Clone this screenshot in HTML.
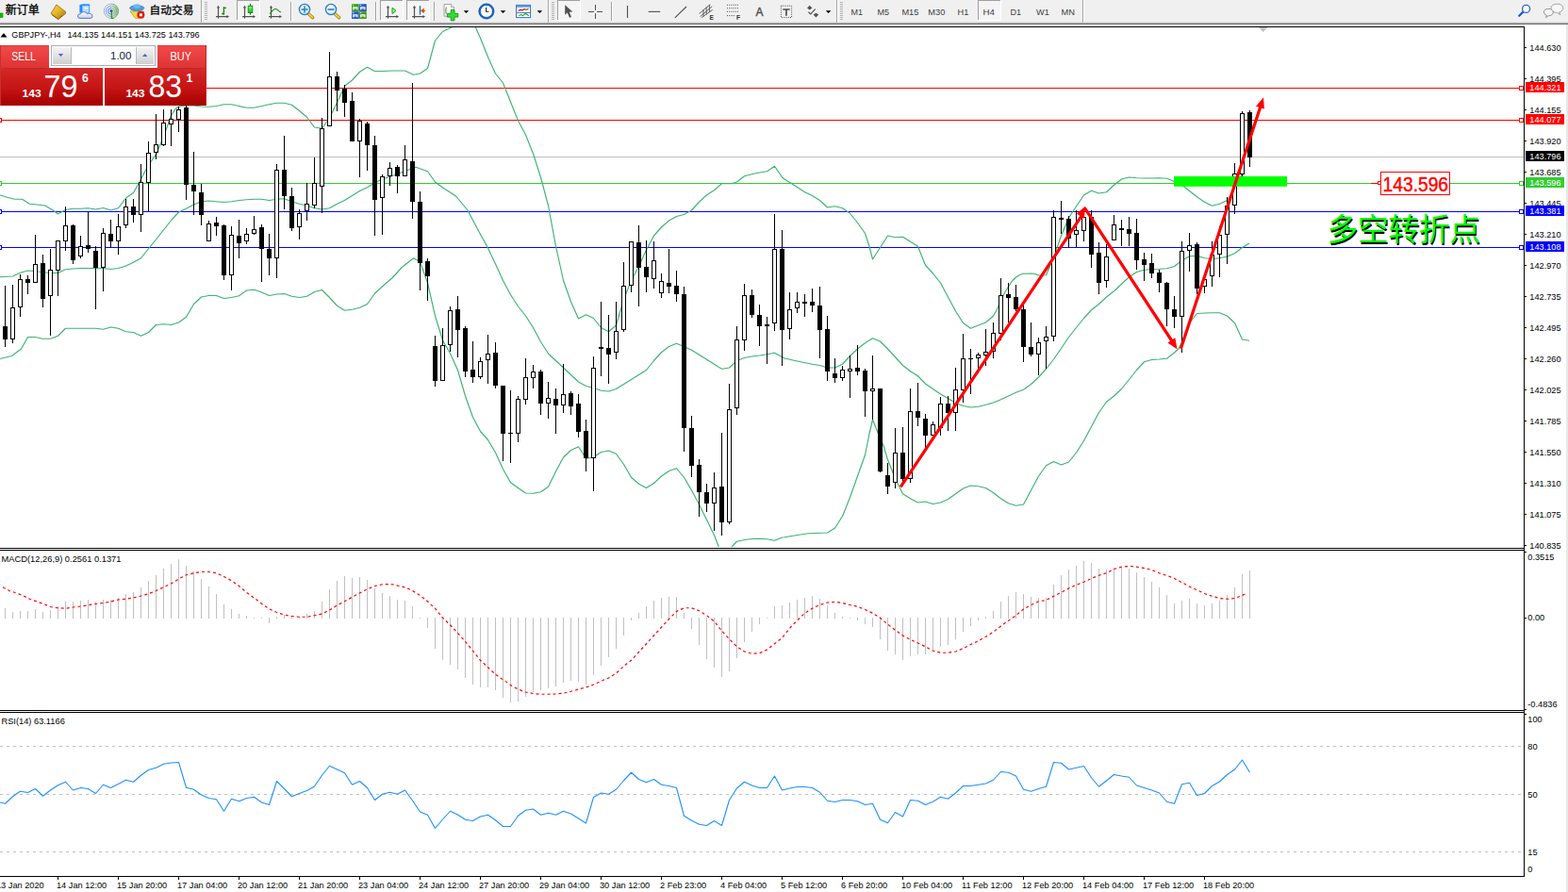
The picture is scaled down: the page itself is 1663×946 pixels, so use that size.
<!DOCTYPE html>
<html><head><meta charset="utf-8"><title>GBPJPY H4</title>
<style>
html,body{margin:0;padding:0;background:#fff}
body{width:1663px;height:946px;overflow:hidden;position:relative;font-family:"Liberation Sans",sans-serif}
svg{position:absolute;left:0;top:0;display:block}
</style></head><body>
<svg width="1663" height="946" viewBox="0 0 1663 946">
<rect x="0" y="0" width="1663" height="946" fill="#fff"/>
<g shape-rendering="crispEdges">
<rect x="0" y="93" width="1616" height="1" fill="#ff0000"/>
<rect x="0" y="127" width="1616" height="1" fill="#ff0000"/>
<rect x="0" y="166" width="1616" height="1" fill="#c0c0c0"/>
<rect x="0" y="194" width="1616" height="1" fill="#32cd32"/>
<rect x="0" y="224" width="1616" height="1" fill="#0000ff"/>
<rect x="0" y="262" width="1616" height="1" fill="#0000ff"/>
</g>
<g fill="none" stroke="#3cb371" stroke-width="1.15" stroke-linejoin="round">
<polyline points="0.00,207.00 7.50,209.25 15.50,211.25 23.50,211.25 31.50,216.25 39.50,217.00 47.50,218.00 55.50,222.50 61.50,227.00 69.50,222.50 77.50,221.25 85.50,221.25 93.50,220.75 101.50,222.00 109.50,220.50 117.50,223.00 125.50,220.75 133.50,210.00 141.50,204.50 149.50,190.00 157.50,175.00 165.50,163.75 173.50,145.00 181.50,122.50 186.00,115.50 189.50,113.00 197.50,112.00 205.50,112.00 213.50,113.00 221.25,113.25 229.50,112.50 237.50,110.75 245.50,110.75 253.50,112.50 261.50,114.25 269.50,114.25 277.50,112.50 285.50,110.75 293.50,109.25 301.50,109.25 309.50,111.25 317.50,117.50 325.50,124.25 333.50,135.00 341.50,136.25 349.50,125.00 357.50,108.75 365.50,91.25 373.50,85.00 381.50,76.25 389.50,71.25 397.50,75.50 405.50,75.50 416.00,75.00 429.50,75.00 438.50,79.25 445.50,78.00 453.50,72.50 461.50,43.00 469.50,33.50 481.00,28.00"/>
<polyline points="504.00,28.00 509.50,40.50 517.50,60.50 525.50,78.00 533.50,88.00 541.50,108.00 549.50,128.00 557.50,143.00 565.50,163.00 573.50,188.00 581.50,218.00 589.50,261.00 597.50,297.50 605.50,320.00 613.50,338.00 621.50,333.75 629.50,337.50 637.50,347.50 645.50,351.75 653.50,345.00 661.50,317.50 669.50,297.50 677.50,282.50 685.50,265.00 693.50,250.00 701.50,241.00 709.50,234.00 717.50,229.50 725.50,227.50 733.50,223.00 741.50,214.25 749.50,206.75 757.50,201.75 765.50,194.75 776.00,194.75 781.50,193.00 789.50,186.75 797.50,184.75 805.50,183.00 813.50,181.75 821.50,176.25 829.50,188.00 832.00,190.00 842.00,196.25 853.50,203.75 861.50,207.50 869.50,212.50 877.50,220.00 885.50,218.75 893.50,220.75 901.50,226.25 909.50,236.25 917.50,247.50 922.00,261.25 925.50,275.00 933.50,262.50 941.50,250.00 949.50,251.75 957.50,251.25 965.50,256.25 973.50,261.25 981.50,281.25 989.50,290.00 997.50,300.00 1005.50,315.00 1013.50,330.00 1021.50,342.50 1029.50,348.25 1037.50,345.00 1045.50,342.00 1053.50,335.00 1057.50,328.00 1061.50,318.50 1065.50,310.50 1069.50,304.00 1073.50,298.00 1077.50,294.00 1081.00,291.70 1085.50,290.20 1093.50,290.00 1097.00,290.30 1101.50,292.00 1109.50,291.70 1112.00,286.00 1117.50,273.00 1125.50,250.00 1133.50,231.00 1141.50,218.80 1149.50,207.00 1157.50,202.20 1165.50,205.00 1173.50,203.75 1181.50,196.25 1189.50,190.00 1197.50,188.00 1205.50,188.75 1213.50,189.00 1221.50,189.00 1229.50,188.75 1237.50,189.25 1245.50,192.50 1253.50,196.25 1261.50,202.50 1269.50,208.75 1277.50,214.25 1285.50,218.25 1293.50,216.25 1301.50,212.50 1309.50,200.00 1317.50,184.00"/>
<polyline points="0.00,293.75 13.50,293.00 21.50,289.25 29.50,287.00 37.50,287.50 45.50,288.75 53.50,289.50 61.50,289.50 69.50,285.75 77.50,285.00 85.50,284.50 93.50,284.50 101.50,284.50 109.50,284.50 117.50,285.50 125.50,284.50 133.50,282.00 141.50,278.25 149.50,273.75 157.50,263.75 165.50,254.00 173.50,243.75 181.50,233.75 189.50,225.00 197.50,221.25 205.50,217.00 213.50,213.75 221.50,213.00 229.50,213.75 237.50,214.50 245.50,213.75 253.50,212.50 261.50,211.75 269.50,211.25 277.50,211.25 285.50,212.50 293.50,211.25 301.50,210.75 309.50,213.75 317.50,216.25 325.50,218.00 333.50,220.75 341.50,222.00 349.50,220.75 357.50,216.25 365.50,212.50 373.50,207.50 381.50,202.50 389.50,198.75 397.50,193.75 405.50,190.00 416.00,186.50 441.00,177.25 453.50,181.75 461.50,193.00 469.50,199.00 477.50,204.00 483.50,208.00 496.00,223.00 506.50,243.00 517.50,263.00 525.50,280.00 533.50,297.50 541.50,312.50 549.50,325.00 557.50,335.00 565.50,347.50 573.50,362.50 581.50,375.00 589.50,382.50 597.50,390.00 605.50,397.50 613.50,405.00 621.50,409.50 629.50,411.25 637.50,414.25 645.50,415.00 653.50,412.50 661.50,407.50 669.50,402.50 677.50,397.50 685.50,392.50 693.50,382.50 701.50,373.75 709.50,367.50 717.50,364.25 725.50,367.50 733.50,371.25 741.50,376.25 749.50,381.25 757.50,386.25 765.50,391.25 773.50,390.00 781.50,382.50 789.50,379.50 797.50,378.00 805.50,377.00 813.50,375.75 821.50,374.25 829.50,378.75 832.00,380.00 845.50,383.00 861.50,386.25 869.50,387.50 877.50,390.00 885.50,390.00 893.50,386.25 901.50,377.50 909.50,370.00 917.50,363.75 925.50,358.75 933.50,362.00 941.50,370.00 949.50,378.75 957.50,387.50 965.50,393.75 973.50,398.75 981.50,407.00 989.50,412.50 997.50,418.00 1005.50,422.50 1013.50,427.50 1021.50,430.50 1029.50,432.00 1037.50,431.25 1045.50,429.25 1053.50,427.00 1061.50,423.75 1069.50,420.00 1077.50,416.25 1085.50,413.25 1093.50,407.50 1101.50,400.00 1109.50,391.25 1117.50,381.00 1125.50,369.50 1133.50,357.50 1141.50,347.50 1149.50,337.50 1157.50,328.75 1165.50,322.50 1173.50,315.00 1181.50,308.75 1189.50,301.25 1197.50,293.75 1205.50,288.50 1213.50,286.25 1221.50,285.50 1229.50,285.25 1237.50,284.75 1245.50,282.50 1253.50,276.25 1261.50,271.75 1269.50,271.25 1277.50,273.75 1285.50,274.50 1293.50,273.75 1301.50,272.00 1309.50,268.75 1317.50,262.50 1325.00,258.00"/>
<polyline points="0.00,380.50 12.50,377.50 22.50,370.00 29.50,357.50 37.50,357.50 45.00,359.25 53.50,359.25 61.50,356.25 69.50,348.25 77.50,348.25 85.50,348.25 101.50,348.25 109.50,349.25 117.50,347.00 125.50,348.25 133.50,351.75 141.50,352.50 149.50,356.25 157.50,352.50 165.50,344.50 173.50,343.75 181.50,344.50 189.50,342.00 197.50,336.25 205.50,322.50 213.50,315.00 221.50,313.50 229.50,313.50 237.50,316.50 245.50,315.50 253.50,313.75 261.50,308.00 269.50,307.25 277.50,310.00 285.50,313.50 293.50,312.00 301.50,311.50 309.50,314.25 317.50,315.50 325.50,314.25 333.50,309.50 341.50,307.50 349.50,315.50 357.50,324.25 365.50,329.25 373.50,328.25 381.50,326.25 389.50,322.50 397.50,311.25 405.50,303.75 416.00,294.75 426.00,283.75 438.50,273.75 445.50,277.50 453.50,300.00 461.50,335.00 469.50,361.00 477.50,375.00 485.50,392.50 493.50,420.00 501.50,442.50 509.50,457.50 517.50,466.50 525.50,480.00 533.50,497.50 541.50,511.75 549.50,517.50 557.50,523.00 565.50,523.25 573.50,521.75 581.50,516.25 589.50,500.00 597.50,485.00 605.50,477.50 613.50,473.75 621.50,486.25 629.50,485.00 637.50,479.50 645.50,478.00 653.50,481.25 661.50,492.50 669.50,506.25 677.50,513.25 685.50,517.50 693.50,512.50 701.50,505.00 709.50,499.50 717.50,496.75 725.50,506.25 733.50,520.00 741.50,535.00 749.50,551.25 757.50,567.50 762.25,580.00"/>
<polyline points="776.00,580.00 781.50,574.25 789.50,572.50 797.50,571.50 805.50,571.25 813.50,571.75 821.50,573.25 829.50,570.00 832.00,569.75 845.50,567.50 857.00,565.75 877.50,565.00 885.50,560.00 893.50,547.50 901.50,527.50 909.50,505.00 917.50,482.50 922.00,460.00 925.50,445.00 929.50,455.00 933.50,465.00 937.00,472.50 941.50,487.50 949.50,507.50 957.50,523.75 965.50,528.75 973.50,533.00 981.50,532.00 989.50,534.50 997.50,533.00 1005.50,529.50 1013.50,523.75 1021.50,518.00 1029.50,515.00 1037.50,515.75 1045.50,517.50 1053.50,522.50 1061.50,528.75 1069.50,533.75 1077.50,536.25 1085.50,535.00 1093.50,520.00 1101.50,505.00 1109.50,493.75 1117.50,489.50 1125.50,493.00 1133.50,490.00 1141.50,480.00 1149.50,467.50 1157.50,452.50 1165.50,437.50 1173.50,426.25 1181.50,420.00 1189.50,412.50 1197.50,402.50 1205.50,392.50 1213.50,383.75 1221.50,381.50 1229.50,381.00 1237.50,380.25 1245.50,374.00 1250.00,370.00 1253.50,362.50 1261.50,342.50 1269.50,332.50 1277.50,332.00 1285.50,331.75 1293.50,331.75 1301.50,335.00 1309.50,342.50 1317.50,360.00 1325.00,361.25"/>
</g>
<g shape-rendering="crispEdges">
<path d="M5.5 303V368M13.5 302V364M21.5 291V336M29.5 292V312M37.5 249V300M45.5 270V326M53.5 264V356M61.5 255V314M69.5 219V266M77.5 238V280M85.5 250V274M93.5 225V268M101.5 261V328M109.5 242V309M117.5 233V262M125.5 227V270M133.5 211V242M141.5 211V236M149.5 174V246M157.5 150V224M165.5 121V169M173.5 116V155M181.5 116V155M189.5 113V140M197.5 112V212M205.5 161V228M213.5 195V239M221.5 234V256M229.5 230V250M237.5 238V297M245.5 240V308M253.5 233V274M261.5 242V259M269.5 229V249M277.5 238V299M285.5 248V292M293.5 174V295M301.5 144V222M309.5 199V245M317.5 222V254M325.5 194V234M333.5 167V221M341.5 125V226M349.5 55V134M357.5 76V118M365.5 90V124M373.5 98V150M381.5 126V188M389.5 129V181M397.5 144V250M405.5 185V249M413.5 172V197M421.5 175V205M429.5 154V187M437.5 88V232M445.5 203V308M453.5 274V319M461.5 356V410M469.5 348V404M477.5 325V373M485.5 314V379M493.5 346V400M501.5 362V406M509.5 379V402M517.5 355V407M525.5 363V412M533.5 409V489M541.5 414V491M549.5 420V469M557.5 380V429M565.5 387V412M573.5 392V440M581.5 405V444M589.5 412V460M597.5 386V438M605.5 415V440M613.5 418V464M621.5 445V500M629.5 378V521M637.5 320V399M645.5 334V407M653.5 320V381M661.5 278V352M669.5 256V310M677.5 239V325M685.5 255V310M693.5 256V306M701.5 290V316M709.5 264V311M717.5 287V320M725.5 304V479M733.5 441V506M741.5 487V548M749.5 513V543M757.5 501V563M765.5 459V568M773.5 407V556M781.5 346V440M789.5 301V372M797.5 307V337M805.5 323V367M813.5 336V386M821.5 227V351M829.5 244V388M837.5 310V360M845.5 310V332M853.5 312V336M861.5 306V331M869.5 304V380M877.5 335V404M885.5 380V406M893.5 388V404M901.5 377V422M909.5 366V398M917.5 391V442M925.5 377V445M933.5 412V501M941.5 491V524M949.5 454V518M957.5 453V515M965.5 412V512M973.5 406V452M981.5 439V475M989.5 447V462M997.5 421V462M1005.5 420V457M1013.5 390V457M1021.5 354V427M1029.5 370V418M1037.5 374V396M1045.5 349V388M1053.5 342V380M1061.5 295V361M1069.5 300V342M1077.5 302V330M1085.5 323V384M1093.5 342V378M1101.5 358V398M1109.5 346V391M1117.5 223V362M1125.5 213V248M1133.5 229V262M1141.5 223V262M1149.5 222V256M1157.5 223V284M1165.5 257V312M1173.5 259V305M1181.5 228V255M1189.5 233V261M1197.5 230V261M1205.5 232V286M1213.5 268V298M1221.5 269V295M1229.5 286V310M1237.5 299V346M1245.5 314V348M1253.5 256V374M1261.5 247V288M1269.5 257V312M1277.5 290V311M1285.5 256V304M1293.5 240V294M1301.5 209V280M1309.5 173V227M1317.5 118V188M1325.5 117V177" stroke="#000" stroke-width="1" fill="none"/>
<path d="M3 346h5v14h-5zM27 296h5v4h-5zM43 279h5v38h-5zM75 239h5v37h-5zM91 260h5v4h-5zM99 266h5v18h-5zM115 248h5v8h-5zM139 219h5v9h-5zM195 114h5v82h-5zM203 196h5v7h-5zM211 204h5v24h-5zM227 236h5v4h-5zM235 239h5v53h-5zM251 250h5v8h-5zM275 241h5v23h-5zM283 264h5v10h-5zM299 180h5v28h-5zM307 208h5v34h-5zM355 81h5v15h-5zM363 94h5v15h-5zM371 107h5v43h-5zM387 131h5v23h-5zM395 154h5v58h-5zM419 177h5v10h-5zM435 171h5v43h-5zM443 214h5v65h-5zM451 277h5v16h-5zM459 367h5v37h-5zM483 328h5v22h-5zM491 348h5v46h-5zM499 392h5v8h-5zM523 374h5v35h-5zM531 409h5v51h-5zM539 459h5v1h-5zM571 394h5v34h-5zM587 423h5v7h-5zM603 417h5v14h-5zM611 428h5v30h-5zM619 457h5v29h-5zM635 368h5v2h-5zM643 369h5v7h-5zM675 257h5v27h-5zM683 283h5v11h-5zM707 300h5v4h-5zM715 303h5v9h-5zM723 312h5v142h-5zM731 454h5v40h-5zM739 493h5v29h-5zM747 522h5v12h-5zM763 516h5v38h-5zM795 313h5v21h-5zM803 334h5v12h-5zM811 344h5v2h-5zM827 264h5v86h-5zM851 320h5v2h-5zM859 320h5v4h-5zM867 324h5v26h-5zM875 349h5v45h-5zM883 396h5v5h-5zM907 390h5v4h-5zM915 393h5v22h-5zM931 412h5v88h-5zM939 504h5v12h-5zM955 480h5v28h-5zM971 436h5v7h-5zM979 444h5v18h-5zM1003 428h5v10h-5zM1027 380h5v1h-5zM1067 312h5v4h-5zM1075 315h5v13h-5zM1083 328h5v40h-5zM1091 368h5v8h-5zM1123 231h5v2h-5zM1131 232h5v21h-5zM1155 230h5v40h-5zM1163 268h5v32h-5zM1187 242h5v2h-5zM1195 243h5v5h-5zM1203 247h5v29h-5zM1211 275h5v6h-5zM1219 279h5v11h-5zM1227 289h5v11h-5zM1235 300h5v28h-5zM1243 328h5v8h-5zM1267 259h5v47h-5zM1323 119h5v48h-5z" fill="#000"/>
<path d="M11.5 326.5h4v33h-4zM19.5 296.5h4v29h-4zM35.5 280.5h4v19h-4zM51.5 286.5h4v27h-4zM59.5 255.5h4v31h-4zM67.5 239.5h4v16h-4zM83.5 261.5h4v10h-4zM107.5 247.5h4v36h-4zM123.5 240.5h4v15h-4zM131.5 219.5h4v19h-4zM147.5 193.5h4v34h-4zM155.5 162.5h4v31h-4zM163.5 153.5h4v8h-4zM171.5 130.5h4v23h-4zM179.5 126.5h4v5h-4zM187.5 116.5h4v10h-4zM219.5 237.5h4v18h-4zM243.5 249.5h4v42h-4zM259.5 248.5h4v7h-4zM267.5 243.5h4v4h-4zM291.5 180.5h4v93h-4zM315.5 226.5h4v14h-4zM323.5 216.5h4v7h-4zM331.5 194.5h4v23h-4zM339.5 136.5h4v61h-4zM347.5 81.5h4v52h-4zM379.5 128.5h4v21h-4zM403.5 187.5h4v22h-4zM411.5 178.5h4v8h-4zM427.5 169.5h4v17h-4zM467.5 366.5h4v37h-4zM475.5 329.5h4v36h-4zM507.5 383.5h4v16h-4zM515.5 375.5h4v6h-4zM547.5 423.5h4v36h-4zM555.5 400.5h4v23h-4zM563.5 394.5h4v6h-4zM579.5 422.5h4v5h-4zM595.5 418.5h4v11h-4zM627.5 390.5h4v95h-4zM651.5 351.5h4v22h-4zM659.5 303.5h4v46h-4zM667.5 256.5h4v46h-4zM691.5 276.5h4v19h-4zM699.5 298.5h4v12h-4zM755.5 517.5h4v16h-4zM771.5 434.5h4v119h-4zM779.5 360.5h4v72h-4zM787.5 313.5h4v47h-4zM819.5 264.5h4v78h-4zM835.5 328.5h4v20h-4zM843.5 320.5h4v6h-4zM891.5 392.5h4v8h-4zM899.5 391.5h4v2h-4zM923.5 412.5h4v2h-4zM947.5 480.5h4v31h-4zM963.5 436.5h4v71h-4zM987.5 450.5h4v11h-4zM995.5 428.5h4v25h-4zM1011.5 413.5h4v24h-4zM1019.5 380.5h4v33h-4zM1035.5 376.5h4v3h-4zM1043.5 373.5h4v3h-4zM1051.5 353.5h4v19h-4zM1059.5 313.5h4v40h-4zM1099.5 363.5h4v12h-4zM1107.5 357.5h4v4h-4zM1115.5 230.5h4v126h-4zM1139.5 244.5h4v4h-4zM1147.5 230.5h4v14h-4zM1171.5 272.5h4v25h-4zM1179.5 238.5h4v16h-4zM1251.5 266.5h4v69h-4zM1259.5 260.5h4v5h-4zM1275.5 296.5h4v7h-4zM1283.5 270.5h4v22h-4zM1291.5 249.5h4v20h-4zM1299.5 218.5h4v30h-4zM1307.5 184.5h4v33h-4zM1315.5 120.5h4v64h-4z" fill="#fff" stroke="#000" stroke-width="1"/>
</g>
<rect x="1245" y="187" width="120" height="10.8" fill="#00ff00"/>
<line x1="955.2" y1="516.4" x2="1147.8" y2="227.9" stroke="#ff0000" stroke-width="3.2"/>
<polygon points="1151,218.8 1141.9,226.4 1149.9,231.9" fill="#ff0000"/>
<line x1="1150.3" y1="220.3" x2="1243.5" y2="362.5" stroke="#ff0000" stroke-width="3.2"/><polygon points="1248.6,370.4 1238.4,363.4 1246.3,358.3" fill="#ff0000"/>
<line x1="1252.4" y1="369.8" x2="1337.1" y2="112.2" stroke="#ff0000" stroke-width="3.2"/><polygon points="1340.0,103.3 1340.9,115.6 1332.0,112.7" fill="#ff0000"/>
<g shape-rendering="crispEdges">
<path d="M5.5 645V656M13.5 649V656M21.5 648V656M29.5 648V656M37.5 646V656M45.5 649V656M53.5 647V656M61.5 643V656M69.5 638V656M77.5 638V656M85.5 637V656M93.5 636V656M101.5 638V656M109.5 636V656M117.5 636V656M125.5 634V656M133.5 630V656M141.5 628V656M149.5 623V656M157.5 616V656M165.5 610V656M173.5 603V656M181.5 598V656M189.5 593V656M197.5 600V656M205.5 606V656M213.5 614V656M221.5 622V656M229.5 630V656M237.5 641V656M245.5 646V656M253.5 651V656M261.5 653V656M269.5 655V656M277.5 655V656M285.5 655V661M293.5 654V656M301.5 652V656M309.5 653V656M317.5 654V656M325.5 651V656M333.5 648V656M341.5 638V656M349.5 625V656M357.5 616V656M365.5 611V656M373.5 613V656M381.5 612V656M389.5 615V656M397.5 624V656M405.5 629V656M413.5 632V656M421.5 636V656M429.5 637V656M437.5 643V656M445.5 655V656M453.5 655V666M461.5 655V688M469.5 655V700M477.5 655V705M485.5 655V710M493.5 655V719M501.5 655V726M509.5 655V729M517.5 655V729M525.5 655V732M533.5 655V740M541.5 655V745M549.5 655V744M557.5 655V739M565.5 655V734M573.5 655V732M581.5 655V730M589.5 655V728M597.5 655V724M605.5 655V722M613.5 655V723M621.5 655V726M629.5 655V716M637.5 655V706M645.5 655V697M653.5 655V688M661.5 655V674M669.5 655V658M677.5 650V656M685.5 643V656M693.5 637V656M701.5 634V656M709.5 633V656M717.5 633V656M725.5 650V656M733.5 655V667M741.5 655V684M749.5 655V699M757.5 655V708M765.5 655V718M773.5 655V712M781.5 655V698M789.5 655V681M797.5 655V670M805.5 655V662M813.5 655V656M821.5 643V656M829.5 642V656M837.5 639V656M845.5 636V656M853.5 634V656M861.5 632V656M869.5 635V656M877.5 642V656M885.5 650V656M893.5 654V656M901.5 655V656M909.5 655V658M917.5 655V662M925.5 655V665M933.5 655V678M941.5 655V690M949.5 655V694M957.5 655V700M965.5 655V696M973.5 655V694M981.5 655V694M989.5 655V690M997.5 655V686M1005.5 655V684M1013.5 655V678M1021.5 655V670M1029.5 655V664M1037.5 655V658M1045.5 654V656M1053.5 648V656M1061.5 638V656M1069.5 632V656M1077.5 628V656M1085.5 630V656M1093.5 633V656M1101.5 634V656M1109.5 634V656M1117.5 620V656M1125.5 610V656M1133.5 604V656M1141.5 600V656M1149.5 595V656M1157.5 597V656M1165.5 603V656M1173.5 604V656M1181.5 602V656M1189.5 602V656M1197.5 603V656M1205.5 607V656M1213.5 612V656M1221.5 617V656M1229.5 623V656M1237.5 631V656M1245.5 640V656M1253.5 637V656M1261.5 635V656M1269.5 640V656M1277.5 642V656M1285.5 640V656M1293.5 637V656M1301.5 631V656M1309.5 623V656M1317.5 609V656M1325.5 605V656" stroke="#c0c0c0" stroke-width="1" fill="none"/>
</g>
<polyline points="3.00,622.75 10.00,626.50 17.50,629.00 25.00,632.00 32.50,635.75 40.00,638.25 47.50,641.00 53.50,643.50 61.50,644.75 69.50,645.25 77.50,644.00 85.50,643.00 93.50,641.75 101.50,640.50 109.50,639.50 117.50,638.00 125.50,636.00 133.50,635.25 141.50,634.00 149.50,632.00 157.50,629.75 165.50,626.50 173.50,622.75 181.50,619.00 189.50,614.00 197.50,609.75 205.50,607.75 213.50,606.50 221.50,606.50 229.50,607.75 237.50,611.50 245.50,615.75 253.50,621.50 261.50,628.25 269.50,634.00 277.50,640.25 285.50,645.75 293.50,649.50 301.50,652.00 309.50,653.50 317.50,654.25 325.50,654.25 333.50,652.75 341.50,651.00 349.50,647.00 357.50,642.00 365.50,637.75 373.50,633.25 381.50,629.00 389.50,624.75 397.50,621.50 405.50,619.75 413.50,619.50 416.00,619.75 423.50,621.50 431.00,623.25 437.50,626.50 445.50,631.50 453.50,637.75 461.50,645.25 469.50,655.25 477.50,662.75 485.50,671.50 493.50,680.25 501.50,690.25 509.50,700.25 517.50,707.75 525.50,715.25 533.50,720.75 541.50,726.50 549.50,731.00 557.50,734.00 565.50,735.50 573.50,736.25 581.50,736.25 589.50,736.00 597.50,735.25 605.50,733.25 613.50,731.00 621.50,729.00 629.50,726.00 637.50,722.25 645.50,719.00 653.50,714.00 661.50,706.50 669.50,700.25 677.50,691.50 685.50,682.75 693.50,674.00 701.50,665.25 709.50,656.50 717.50,648.50 725.50,644.75 733.50,644.75 741.50,647.75 749.50,652.75 757.50,659.00 765.50,669.00 773.50,677.75 781.50,685.75 789.50,691.00 797.50,693.25 805.50,692.75 813.50,689.00 821.50,682.75 829.50,676.50 832.00,673.25 839.50,664.00 847.00,656.50 853.50,650.25 861.50,645.25 869.50,641.50 877.50,639.00 885.50,638.25 893.50,639.50 901.50,641.50 909.50,643.25 917.50,646.50 925.50,650.25 933.50,655.25 941.50,662.00 949.50,668.25 957.50,674.00 965.50,678.25 973.50,682.00 981.50,685.75 989.50,690.25 997.50,692.25 1005.50,692.25 1013.50,691.00 1021.50,687.75 1029.50,683.50 1037.50,679.75 1045.50,675.25 1053.50,670.25 1061.50,664.00 1069.50,658.25 1077.50,652.75 1085.50,646.00 1093.50,641.50 1101.50,637.75 1109.50,636.50 1117.50,632.25 1125.50,628.25 1133.50,624.00 1141.50,620.25 1149.50,617.25 1157.50,613.50 1165.50,610.25 1173.50,607.75 1181.50,603.50 1189.50,601.25 1197.50,600.50 1200.00,600.50 1207.50,601.50 1215.00,602.75 1221.50,604.50 1229.50,607.75 1237.50,610.25 1245.50,613.50 1253.50,617.75 1261.50,622.00 1269.50,625.75 1277.50,629.50 1285.50,632.25 1293.50,634.50 1301.50,635.25 1309.50,634.50 1317.50,631.50 1322.50,629.00" fill="none" stroke="#ff0000" stroke-width="1.2" stroke-dasharray="3,3"/>
<g shape-rendering="crispEdges" stroke="#c0c0c0" stroke-width="1" stroke-dasharray="3,4">
<line x1="0" y1="791.5" x2="1614" y2="791.5"/>
<line x1="0" y1="842.5" x2="1614" y2="842.5"/>
<line x1="0" y1="903.5" x2="1614" y2="903.5"/>
</g>
<polyline points="0.00,851.00 5.50,852.25 13.50,844.75 21.50,839.25 29.50,840.50 37.50,836.50 45.50,844.25 53.50,838.00 61.50,832.75 69.50,829.25 77.50,838.00 85.50,835.50 93.50,836.50 101.50,841.50 109.50,832.25 117.50,835.50 125.50,831.50 133.50,827.25 141.50,829.25 149.50,822.25 157.50,816.50 165.50,814.25 173.50,810.25 181.50,809.00 189.50,808.50 197.50,835.25 205.50,837.25 213.50,843.00 221.50,846.50 229.50,847.75 237.50,860.25 245.50,847.25 253.50,849.75 261.50,846.50 269.50,845.25 277.50,851.00 285.50,853.50 293.50,828.50 301.50,836.50 309.50,844.75 317.50,841.50 325.50,838.50 333.50,834.00 341.50,822.25 349.50,812.25 357.50,816.00 365.50,819.75 373.50,832.25 381.50,828.50 389.50,835.50 397.50,848.50 405.50,842.25 413.50,840.25 421.50,842.25 429.50,838.00 437.50,849.00 445.50,861.00 453.50,864.25 461.50,878.50 469.50,869.00 477.50,860.25 485.50,864.00 493.50,869.25 501.50,870.50 509.50,866.00 517.50,864.25 525.50,869.75 533.50,876.50 541.50,876.50 549.50,865.25 557.50,859.25 565.50,858.00 573.50,864.25 581.50,862.25 589.50,864.25 597.50,860.25 605.50,863.00 613.50,868.00 621.50,873.00 629.50,845.50 637.50,841.00 645.50,842.25 653.50,837.25 661.50,827.75 669.50,819.25 677.50,826.50 685.50,829.75 693.50,826.50 701.50,832.25 709.50,833.50 717.50,835.50 725.50,865.25 733.50,870.25 741.50,874.25 749.50,875.50 757.50,870.50 765.50,875.50 773.50,848.50 781.50,836.00 789.50,829.25 797.50,833.00 805.50,835.50 813.50,835.50 821.50,823.00 829.50,838.00 837.50,836.00 845.50,834.50 853.50,834.50 861.50,835.50 869.50,840.25 877.50,849.25 885.50,850.50 893.50,848.50 901.50,848.50 909.50,849.75 917.50,853.50 925.50,852.25 933.50,869.25 941.50,872.75 949.50,861.50 957.50,866.00 965.50,848.50 973.50,849.25 981.50,853.50 989.50,850.25 997.50,845.25 1005.50,847.25 1013.50,841.00 1021.50,833.50 1029.50,833.50 1037.50,832.25 1045.50,831.00 1053.50,827.25 1061.50,818.50 1069.50,819.25 1077.50,823.00 1085.50,837.25 1093.50,839.25 1101.50,836.50 1109.50,834.25 1117.50,808.50 1125.50,809.25 1133.50,816.00 1141.50,814.25 1149.50,812.50 1157.50,824.75 1165.50,834.25 1173.50,828.00 1181.50,821.50 1189.50,823.00 1197.50,824.25 1205.50,833.00 1213.50,835.50 1221.50,838.00 1229.50,841.00 1237.50,850.25 1245.50,852.25 1253.50,831.75 1261.50,830.25 1269.50,843.50 1277.50,841.50 1285.50,833.50 1293.50,829.00 1301.50,821.50 1309.50,816.00 1317.50,806.00 1325.50,819.25" fill="none" stroke="#1e90ff" stroke-width="1.1" stroke-linejoin="round"/>
<g shape-rendering="crispEdges" fill="#000">
<rect x="0" y="28" width="1617" height="1"/>
<rect x="1616" y="28" width="1" height="902"/>
<rect x="0" y="581" width="1617" height="1"/>
<rect x="0" y="583" width="1617" height="1"/>
<rect x="0" y="753" width="1617" height="1"/>
<rect x="0" y="755" width="1617" height="1"/>
<rect x="0" y="929" width="1617" height="1"/>
<rect x="0" y="582" width="1616" height="1" fill="#fff"/>
<rect x="0" y="754" width="1616" height="1" fill="#fff"/>
<rect x="1617" y="50" width="2" height="1"/>
<rect x="1617" y="83" width="2" height="1"/>
<rect x="1617" y="116" width="2" height="1"/>
<rect x="1617" y="149" width="2" height="1"/>
<rect x="1617" y="182" width="2" height="1"/>
<rect x="1617" y="215" width="2" height="1"/>
<rect x="1617" y="248" width="2" height="1"/>
<rect x="1617" y="281" width="2" height="1"/>
<rect x="1617" y="314" width="2" height="1"/>
<rect x="1617" y="347" width="2" height="1"/>
<rect x="1617" y="380" width="2" height="1"/>
<rect x="1617" y="413" width="2" height="1"/>
<rect x="1617" y="446" width="2" height="1"/>
<rect x="1617" y="479" width="2" height="1"/>
<rect x="1617" y="512" width="2" height="1"/>
<rect x="1617" y="545" width="2" height="1"/>
<rect x="1617" y="578" width="2" height="1"/>
<rect x="1617" y="585" width="2" height="1"/>
<rect x="1617" y="655" width="2" height="1"/>
<rect x="1617" y="752" width="2" height="1"/>
<rect x="1617" y="757" width="2" height="1"/>
<rect x="61" y="930" width="1" height="3"/>
<rect x="125" y="930" width="1" height="3"/>
<rect x="189" y="930" width="1" height="3"/>
<rect x="253" y="930" width="1" height="3"/>
<rect x="317" y="930" width="1" height="3"/>
<rect x="381" y="930" width="1" height="3"/>
<rect x="445" y="930" width="1" height="3"/>
<rect x="509" y="930" width="1" height="3"/>
<rect x="573" y="930" width="1" height="3"/>
<rect x="637" y="930" width="1" height="3"/>
<rect x="701" y="930" width="1" height="3"/>
<rect x="765" y="930" width="1" height="3"/>
<rect x="829" y="930" width="1" height="3"/>
<rect x="893" y="930" width="1" height="3"/>
<rect x="957" y="930" width="1" height="3"/>
<rect x="1021" y="930" width="1" height="3"/>
<rect x="1085" y="930" width="1" height="3"/>
<rect x="1149" y="930" width="1" height="3"/>
<rect x="1213" y="930" width="1" height="3"/>
<rect x="1277" y="930" width="1" height="3"/>
</g>
<g font-family='"Liberation Sans", sans-serif' font-size="9.8" fill="#000">
<text transform="translate(1622.30,53.90) scale(0.940,1)" font-size="9.8">144.630</text>
<text transform="translate(1622.30,86.90) scale(0.940,1)" font-size="9.8">144.395</text>
<text transform="translate(1622.30,119.90) scale(0.940,1)" font-size="9.8">144.155</text>
<text transform="translate(1622.30,152.90) scale(0.940,1)" font-size="9.8">143.920</text>
<text transform="translate(1622.30,185.90) scale(0.940,1)" font-size="9.8">143.685</text>
<text transform="translate(1622.30,218.90) scale(0.940,1)" font-size="9.8">143.445</text>
<text transform="translate(1622.30,251.90) scale(0.940,1)" font-size="9.8">143.210</text>
<text transform="translate(1622.30,284.90) scale(0.940,1)" font-size="9.8">142.970</text>
<text transform="translate(1622.30,317.90) scale(0.940,1)" font-size="9.8">142.735</text>
<text transform="translate(1622.30,350.90) scale(0.940,1)" font-size="9.8">142.495</text>
<text transform="translate(1622.30,383.90) scale(0.940,1)" font-size="9.8">142.260</text>
<text transform="translate(1622.30,416.90) scale(0.940,1)" font-size="9.8">142.025</text>
<text transform="translate(1622.30,449.90) scale(0.940,1)" font-size="9.8">141.785</text>
<text transform="translate(1622.30,482.90) scale(0.940,1)" font-size="9.8">141.550</text>
<text transform="translate(1622.30,515.90) scale(0.940,1)" font-size="9.8">141.310</text>
<text transform="translate(1622.30,548.90) scale(0.940,1)" font-size="9.8">141.075</text>
<text transform="translate(1622.30,581.90) scale(0.940,1)" font-size="9.8">140.835</text>
<text transform="translate(1620.30,594.40) scale(0.940,1)" font-size="9.8">0.3515</text>
<text transform="translate(1620.30,658.40) scale(0.940,1)" font-size="9.8">0.00</text>
<text transform="translate(1620.30,750.40) scale(0.940,1)" font-size="9.8">-0.4836</text>
<text transform="translate(1620.30,765.90) scale(0.940,1)" font-size="9.8">100</text>
<text transform="translate(1620.30,794.90) scale(0.940,1)" font-size="9.8">80</text>
<text transform="translate(1620.30,845.90) scale(0.940,1)" font-size="9.8">50</text>
<text transform="translate(1620.30,906.90) scale(0.940,1)" font-size="9.8">15</text>
<text transform="translate(1620.30,925.40) scale(0.940,1)" font-size="9.8">0</text>
<text transform="translate(-4.00,942.00) scale(0.940,1)" font-size="9.8">13 Jan 2020</text>
<text transform="translate(60.00,942.00) scale(0.940,1)" font-size="9.8">14 Jan 12:00</text>
<text transform="translate(124.00,942.00) scale(0.940,1)" font-size="9.8">15 Jan 20:00</text>
<text transform="translate(188.00,942.00) scale(0.940,1)" font-size="9.8">17 Jan 04:00</text>
<text transform="translate(252.00,942.00) scale(0.940,1)" font-size="9.8">20 Jan 12:00</text>
<text transform="translate(316.00,942.00) scale(0.940,1)" font-size="9.8">21 Jan 20:00</text>
<text transform="translate(380.00,942.00) scale(0.940,1)" font-size="9.8">23 Jan 04:00</text>
<text transform="translate(444.00,942.00) scale(0.940,1)" font-size="9.8">24 Jan 12:00</text>
<text transform="translate(508.00,942.00) scale(0.940,1)" font-size="9.8">27 Jan 20:00</text>
<text transform="translate(572.00,942.00) scale(0.940,1)" font-size="9.8">29 Jan 04:00</text>
<text transform="translate(636.00,942.00) scale(0.940,1)" font-size="9.8">30 Jan 12:00</text>
<text transform="translate(700.00,942.00) scale(0.940,1)" font-size="9.8">2 Feb 23:00</text>
<text transform="translate(764.00,942.00) scale(0.940,1)" font-size="9.8">4 Feb 04:00</text>
<text transform="translate(828.00,942.00) scale(0.940,1)" font-size="9.8">5 Feb 12:00</text>
<text transform="translate(892.00,942.00) scale(0.940,1)" font-size="9.8">6 Feb 20:00</text>
<text transform="translate(956.00,942.00) scale(0.940,1)" font-size="9.8">10 Feb 04:00</text>
<text transform="translate(1020.00,942.00) scale(0.940,1)" font-size="9.8">11 Feb 12:00</text>
<text transform="translate(1084.00,942.00) scale(0.940,1)" font-size="9.8">12 Feb 20:00</text>
<text transform="translate(1148.00,942.00) scale(0.940,1)" font-size="9.8">14 Feb 04:00</text>
<text transform="translate(1212.00,942.00) scale(0.940,1)" font-size="9.8">17 Feb 12:00</text>
<text transform="translate(1276.00,942.00) scale(0.940,1)" font-size="9.8">18 Feb 20:00</text>
<text x="12.3" y="39.8" font-size="9.8" textLength="52.4" lengthAdjust="spacingAndGlyphs">GBPJPY-,H4</text>
<text x="71.4" y="39.8" font-size="9.8" textLength="140.3" lengthAdjust="spacingAndGlyphs">144.135 144.151 143.725 143.796</text>
<text x="1.5" y="595.8" textLength="127" lengthAdjust="spacingAndGlyphs">MACD(12,26,9) 0.2561 0.1371</text>
<text x="1.5" y="767.6" textLength="67.3" lengthAdjust="spacingAndGlyphs">RSI(14) 63.1166</text>
</g>
<polygon points="0.5,39.5 7.5,39.5 4,35" fill="#000"/>
<polygon points="1335,29 1344.4,29 1339.7,34" fill="#c0c0c0"/>
<rect x="1618" y="87" width="41" height="11" fill="#ff0000" shape-rendering="crispEdges"/>
<g font-family='"Liberation Sans", sans-serif'><text transform="translate(1622.30,95.80) scale(0.940,1)" font-size="9.8" fill="#fff">144.321</text></g>
<rect x="1611.5" y="91.5" width="4" height="4" fill="#fff" stroke="#ff0000" stroke-width="1" shape-rendering="crispEdges"/>
<rect x="1618" y="121" width="41" height="11" fill="#ff0000" shape-rendering="crispEdges"/>
<g font-family='"Liberation Sans", sans-serif'><text transform="translate(1622.30,129.80) scale(0.940,1)" font-size="9.8" fill="#fff">144.077</text></g>
<rect x="1611.5" y="125.5" width="4" height="4" fill="#fff" stroke="#ff0000" stroke-width="1" shape-rendering="crispEdges"/>
<rect x="1618" y="160" width="41" height="11" fill="#000000" shape-rendering="crispEdges"/>
<g font-family='"Liberation Sans", sans-serif'><text transform="translate(1622.30,168.80) scale(0.940,1)" font-size="9.8" fill="#fff">143.796</text></g>
<rect x="1618" y="188" width="41" height="11" fill="#32cd32" shape-rendering="crispEdges"/>
<g font-family='"Liberation Sans", sans-serif'><text transform="translate(1622.30,196.80) scale(0.940,1)" font-size="9.8" fill="#fff">143.596</text></g>
<rect x="1611.5" y="192.5" width="4" height="4" fill="#fff" stroke="#32cd32" stroke-width="1" shape-rendering="crispEdges"/>
<rect x="1618" y="218" width="41" height="11" fill="#0000ff" shape-rendering="crispEdges"/>
<g font-family='"Liberation Sans", sans-serif'><text transform="translate(1622.30,226.80) scale(0.940,1)" font-size="9.8" fill="#fff">143.381</text></g>
<rect x="1611.5" y="222.5" width="4" height="4" fill="#fff" stroke="#0000ff" stroke-width="1" shape-rendering="crispEdges"/>
<rect x="1618" y="256" width="41" height="11" fill="#0000ff" shape-rendering="crispEdges"/>
<g font-family='"Liberation Sans", sans-serif'><text transform="translate(1622.30,264.80) scale(0.940,1)" font-size="9.8" fill="#fff">143.108</text></g>
<rect x="1611.5" y="260.5" width="4" height="4" fill="#fff" stroke="#0000ff" stroke-width="1" shape-rendering="crispEdges"/>
<rect x="-2.5" y="125.5" width="4" height="4" fill="#fff" stroke="#ff0000" stroke-width="1" shape-rendering="crispEdges"/>
<rect x="-2.5" y="192.5" width="4" height="4" fill="#fff" stroke="#32cd32" stroke-width="1" shape-rendering="crispEdges"/>
<rect x="-2.5" y="222.5" width="4" height="4" fill="#fff" stroke="#0000ff" stroke-width="1" shape-rendering="crispEdges"/>
<rect x="-2.5" y="260.5" width="4" height="4" fill="#fff" stroke="#0000ff" stroke-width="1" shape-rendering="crispEdges"/>
<rect x="1454" y="194" width="8" height="1" fill="#ff0000" shape-rendering="crispEdges"/>
<rect x="1464.5" y="182.5" width="73" height="24" fill="#fff" stroke="#ff0000" stroke-width="1" shape-rendering="crispEdges"/>
<rect x="1461.5" y="192.5" width="3" height="3" fill="#fff" stroke="#ff0000" stroke-width="1" shape-rendering="crispEdges"/>
<text x="1466.6" y="202.8" font-family='"Liberation Sans", sans-serif' font-size="22.2" fill="#ff0000" stroke="#ff0000" stroke-width="0.45" textLength="69.4" lengthAdjust="spacingAndGlyphs">143.596</text>
<text x="1408.5" y="256.5" font-family='"Liberation Sans", "Noto Sans CJK SC", sans-serif' font-size="33" fill="#000" textLength="162.8" lengthAdjust="spacing">多空转折点</text>
<text x="1407.4" y="255.4" font-family='"Liberation Sans", "Noto Sans CJK SC", sans-serif' font-size="33" fill="#00ff00" textLength="162.8" lengthAdjust="spacing">多空转折点</text>
<defs>
<linearGradient id="gt" x1="0" y1="0" x2="0" y2="1"><stop offset="0" stop-color="#f24a4a"/><stop offset="1" stop-color="#dd3232"/></linearGradient>
<linearGradient id="gb" x1="0" y1="0" x2="0" y2="1"><stop offset="0" stop-color="#d62828"/><stop offset="0.55" stop-color="#c41414"/><stop offset="1" stop-color="#a60000"/></linearGradient>
<linearGradient id="gs" x1="0" y1="0" x2="0" y2="1"><stop offset="0" stop-color="#f4f4f4"/><stop offset="0.5" stop-color="#e2e2e2"/><stop offset="1" stop-color="#cfcfcf"/></linearGradient>
<pattern id="dth" width="2" height="2" patternUnits="userSpaceOnUse"><rect width="2" height="2" fill="#fbfbfb"/><rect width="1" height="1" fill="#eeeeee"/><rect x="1" y="1" width="1" height="1" fill="#eeeeee"/></pattern>
</defs>
<g shape-rendering="crispEdges">
<rect x="0" y="48" width="219" height="64" fill="#fff"/>
<rect x="0" y="48" width="52" height="25" fill="url(#gt)"/>
<rect x="167" y="48" width="52" height="25" fill="url(#gt)"/>
<rect x="0" y="72" width="109" height="40" fill="url(#gb)"/>
<rect x="111" y="72" width="108" height="40" fill="url(#gb)"/>
<rect x="0" y="48" width="52" height="1" fill="#d83a3a"/>
<rect x="167" y="48" width="52" height="1" fill="#d83a3a"/>
<rect x="0" y="48" width="1" height="64" fill="#c83030"/>
<rect x="218" y="48" width="1" height="64" fill="#c02828"/>
<rect x="4" y="72" width="44" height="1" fill="#b82a2a"/>
<rect x="171" y="72" width="44" height="1" fill="#b82a2a"/>
<rect x="54.5" y="48.5" width="110" height="21" fill="#fff" stroke="#a9adb8" stroke-width="1"/>
<rect x="56" y="50" width="19" height="18" fill="url(#gs)"/>
<rect x="145" y="50" width="18" height="18" fill="url(#gs)"/>
<rect x="75" y="50" width="1" height="18" fill="#b8b8c0"/>
<rect x="144" y="50" width="1" height="18" fill="#b8b8c0"/>
</g>
<polygon points="61.8,57 67.2,57 64.5,60" fill="#4a62c8"/>
<polygon points="151,60 156.4,60 153.7,57" fill="#4a62c8"/>
<g font-family='"Liberation Sans", sans-serif' fill="#fff">
<text x="12.3" y="64" font-size="12" textLength="25.5" lengthAdjust="spacingAndGlyphs">SELL</text>
<text x="180.5" y="64" font-size="12" textLength="22.5" lengthAdjust="spacingAndGlyphs">BUY</text>
<text x="117" y="62.6" font-size="11.6" fill="#101840" textLength="22.4" lengthAdjust="spacingAndGlyphs">1.00</text>
<text x="23.6" y="102.7" font-size="11" font-weight="bold" textLength="20.2" lengthAdjust="spacingAndGlyphs">143</text>
<text x="133.4" y="102.7" font-size="11" font-weight="bold" textLength="20.2" lengthAdjust="spacingAndGlyphs">143</text>
<text x="46.6" y="102.9" font-size="33.5" textLength="36" lengthAdjust="spacingAndGlyphs" stroke="#c61818" stroke-width="1.25" paint-order="stroke">79</text>
<text x="157.6" y="102.9" font-size="33.5" textLength="35.5" lengthAdjust="spacingAndGlyphs" stroke="#c61818" stroke-width="1.25" paint-order="stroke">83</text>
<text x="87" y="87.1" font-size="12.3" font-weight="bold">6</text>
<text x="197.4" y="87.1" font-size="12.3" font-weight="bold">1</text>
</g>
<g shape-rendering="crispEdges">
<rect x="0" y="0" width="1663" height="23" fill="#f0f0f0"/>
<rect x="0" y="23" width="1663" height="1" fill="#e2e2e2"/>
<rect x="0" y="24" width="1663" height="1" fill="#b0b0b0"/>
<rect x="0" y="25" width="1663" height="1" fill="#707070"/>
<rect x="0" y="26" width="1663" height="2" fill="#fff"/>
<rect x="1661" y="26" width="2" height="920" fill="#e9e9e9"/>
<rect x="251" y="0" width="25" height="22" fill="url(#dth)"/>
<rect x="251" y="0" width="25" height="1" fill="#a0a0a0"/>
<rect x="251" y="0" width="1" height="22" fill="#a0a0a0"/>
<rect x="251" y="21" width="25" height="1" fill="#ffffff"/>
<rect x="275" y="0" width="1" height="22" fill="#ffffff"/>
<rect x="403" y="0" width="25" height="22" fill="url(#dth)"/>
<rect x="403" y="0" width="25" height="1" fill="#a0a0a0"/>
<rect x="403" y="0" width="1" height="22" fill="#a0a0a0"/>
<rect x="403" y="21" width="25" height="1" fill="#ffffff"/>
<rect x="427" y="0" width="1" height="22" fill="#ffffff"/>
<rect x="431" y="0" width="25" height="22" fill="url(#dth)"/>
<rect x="431" y="0" width="25" height="1" fill="#a0a0a0"/>
<rect x="431" y="0" width="1" height="22" fill="#a0a0a0"/>
<rect x="431" y="21" width="25" height="1" fill="#ffffff"/>
<rect x="455" y="0" width="1" height="22" fill="#ffffff"/>
<rect x="591" y="0" width="25" height="22" fill="url(#dth)"/>
<rect x="591" y="0" width="25" height="1" fill="#a0a0a0"/>
<rect x="591" y="0" width="1" height="22" fill="#a0a0a0"/>
<rect x="591" y="21" width="25" height="1" fill="#ffffff"/>
<rect x="615" y="0" width="1" height="22" fill="#ffffff"/>
<rect x="1037" y="0" width="25" height="22" fill="url(#dth)"/>
<rect x="1037" y="0" width="25" height="1" fill="#a0a0a0"/>
<rect x="1037" y="0" width="1" height="22" fill="#a0a0a0"/>
<rect x="1037" y="21" width="25" height="1" fill="#ffffff"/>
<rect x="1061" y="0" width="1" height="22" fill="#ffffff"/>
<rect x="308" y="2" width="1" height="20" fill="#a0a0a0"/>
<rect x="309" y="2" width="1" height="20" fill="#ffffff"/>
<rect x="398" y="2" width="1" height="20" fill="#a0a0a0"/>
<rect x="399" y="2" width="1" height="20" fill="#ffffff"/>
<rect x="460" y="2" width="1" height="20" fill="#a0a0a0"/>
<rect x="461" y="2" width="1" height="20" fill="#ffffff"/>
<rect x="648" y="2" width="1" height="20" fill="#a0a0a0"/>
<rect x="649" y="2" width="1" height="20" fill="#ffffff"/>
<rect x="213" y="0" width="1" height="24" fill="#a4a4a4"/>
<rect x="214" y="0" width="1" height="24" fill="#ffffff"/>
<rect x="581" y="0" width="1" height="24" fill="#a4a4a4"/>
<rect x="582" y="0" width="1" height="24" fill="#ffffff"/>
<rect x="887" y="0" width="1" height="24" fill="#a4a4a4"/>
<rect x="888" y="0" width="1" height="24" fill="#ffffff"/>
<rect x="1148" y="0" width="1" height="24" fill="#a4a4a4"/>
<rect x="1149" y="0" width="1" height="24" fill="#ffffff"/>
<rect x="217" y="2" width="3" height="1" fill="#b4b4b4"/>
<rect x="217" y="4" width="3" height="1" fill="#b4b4b4"/>
<rect x="217" y="6" width="3" height="1" fill="#b4b4b4"/>
<rect x="217" y="8" width="3" height="1" fill="#b4b4b4"/>
<rect x="217" y="10" width="3" height="1" fill="#b4b4b4"/>
<rect x="217" y="12" width="3" height="1" fill="#b4b4b4"/>
<rect x="217" y="14" width="3" height="1" fill="#b4b4b4"/>
<rect x="217" y="16" width="3" height="1" fill="#b4b4b4"/>
<rect x="217" y="18" width="3" height="1" fill="#b4b4b4"/>
<rect x="217" y="20" width="3" height="1" fill="#b4b4b4"/>
<rect x="585" y="2" width="3" height="1" fill="#b4b4b4"/>
<rect x="585" y="4" width="3" height="1" fill="#b4b4b4"/>
<rect x="585" y="6" width="3" height="1" fill="#b4b4b4"/>
<rect x="585" y="8" width="3" height="1" fill="#b4b4b4"/>
<rect x="585" y="10" width="3" height="1" fill="#b4b4b4"/>
<rect x="585" y="12" width="3" height="1" fill="#b4b4b4"/>
<rect x="585" y="14" width="3" height="1" fill="#b4b4b4"/>
<rect x="585" y="16" width="3" height="1" fill="#b4b4b4"/>
<rect x="585" y="18" width="3" height="1" fill="#b4b4b4"/>
<rect x="585" y="20" width="3" height="1" fill="#b4b4b4"/>
<rect x="891" y="2" width="3" height="1" fill="#b4b4b4"/>
<rect x="891" y="4" width="3" height="1" fill="#b4b4b4"/>
<rect x="891" y="6" width="3" height="1" fill="#b4b4b4"/>
<rect x="891" y="8" width="3" height="1" fill="#b4b4b4"/>
<rect x="891" y="10" width="3" height="1" fill="#b4b4b4"/>
<rect x="891" y="12" width="3" height="1" fill="#b4b4b4"/>
<rect x="891" y="14" width="3" height="1" fill="#b4b4b4"/>
<rect x="891" y="16" width="3" height="1" fill="#b4b4b4"/>
<rect x="891" y="18" width="3" height="1" fill="#b4b4b4"/>
<rect x="891" y="20" width="3" height="1" fill="#b4b4b4"/>
</g>
<g font-family='"Liberation Sans", sans-serif' font-size="9.3" fill="#3c3c3c">
<text x="902.5" y="15.7" textLength="12.5" lengthAdjust="spacingAndGlyphs">M1</text>
<text x="930.6" y="15.7" textLength="12.5" lengthAdjust="spacingAndGlyphs">M5</text>
<text x="956.4" y="15.7" textLength="18.0" lengthAdjust="spacingAndGlyphs">M15</text>
<text x="984.3" y="15.7" textLength="18.0" lengthAdjust="spacingAndGlyphs">M30</text>
<text x="1015.5" y="15.7" textLength="11.8" lengthAdjust="spacingAndGlyphs">H1</text>
<text x="1042.4" y="15.7" textLength="12.4" lengthAdjust="spacingAndGlyphs">H4</text>
<text x="1071.4" y="15.7" textLength="11.6" lengthAdjust="spacingAndGlyphs">D1</text>
<text x="1099.0" y="15.7" textLength="13.8" lengthAdjust="spacingAndGlyphs">W1</text>
<text x="1125.6" y="15.7" textLength="14.4" lengthAdjust="spacingAndGlyphs">MN</text>
</g>
<text x="5.8" y="15.3" font-family='"Liberation Sans", "Noto Sans CJK SC", sans-serif' font-size="12" fill="#000" stroke="#000" stroke-width="0.3">新订单</text>
<text x="158.6" y="15.3" font-family='"Liberation Sans", "Noto Sans CJK SC", sans-serif' font-size="11.7" fill="#000" stroke="#000" stroke-width="0.3">自动交易</text>
<defs>
<linearGradient id="gold" x1="0" y1="0" x2="1" y2="1"><stop offset="0" stop-color="#f6dc5a"/><stop offset="0.5" stop-color="#e2b424"/><stop offset="1" stop-color="#a86e08"/></linearGradient>
<linearGradient id="grn" x1="0" y1="0" x2="0" y2="1"><stop offset="0" stop-color="#8cff8c"/><stop offset="1" stop-color="#10c010"/></linearGradient>
<linearGradient id="blu" x1="0" y1="0" x2="1" y2="1"><stop offset="0" stop-color="#3a78e8"/><stop offset="1" stop-color="#0a30b0"/></linearGradient>
<linearGradient id="grt" x1="0" y1="0" x2="1" y2="1"><stop offset="0" stop-color="#4aa81a"/><stop offset="1" stop-color="#2a8a08"/></linearGradient>
<radialGradient id="lens" cx="0.4" cy="0.35" r="0.7"><stop offset="0" stop-color="#f4fcff"/><stop offset="1" stop-color="#c4e6f8"/></radialGradient>
<linearGradient id="cloud" x1="0" y1="0" x2="0" y2="1"><stop offset="0" stop-color="#ffffff"/><stop offset="1" stop-color="#c4d2ea"/></linearGradient>
<linearGradient id="sig" x1="0" y1="0" x2="1" y2="0"><stop offset="0" stop-color="#e6f0e6"/><stop offset="1" stop-color="#86b886"/></linearGradient>
</defs>
<rect x="0" y="14" width="3" height="4.5" fill="#10c010" stroke="#0a8a0a" stroke-width="0.6"/>
<polygon points="59.8,5 70,12.8 61.6,20 54,14.4" fill="url(#gold)" stroke="#a87410" stroke-width="0.9" stroke-linejoin="round"/>
<path d="M55 15.6 L61.8 20.6 L70 13.8" fill="none" stroke="#8a5a06" stroke-width="1"/>
<path d="M84.4 5.2 L88 4.2 L95.2 4.6 L95.2 13.6 L84.4 13.6Z" fill="#1e8cff"/>
<rect x="87.4" y="6" width="7" height="7" fill="#b8dcff"/>
<rect x="89" y="8.2" width="4.5" height="1" fill="#ffffff"/>
<path d="M85 19.4 Q82.3 19.4 82.4 16.9 Q82.6 14.6 85.3 14.8 Q86.2 12.3 89.2 12.6 Q91.6 12.8 92.3 14.6 Q94.2 13.5 95.8 14.6 Q98.2 15 98.1 17.2 Q98 19.4 95.6 19.4Z" fill="url(#cloud)" stroke="#4a6cb4" stroke-width="0.9"/>
<path d="M118 4.1 A7.7 7.7 0 0 1 118 19.5 Z" fill="url(#sig)"/>
<g fill="none" stroke="#3a68d4" stroke-width="0.9">
<path d="M118 8.4 A3.4 3.4 0 0 0 118 15.2" opacity="0.95"/><path d="M118 6.2 A5.6 5.6 0 0 0 118 17.4" opacity="0.7"/><path d="M118 4.1 A7.7 7.7 0 0 0 118 19.5" opacity="0.5"/>
</g>
<g fill="none" stroke="#5a985a" stroke-width="0.8"><path d="M118 8.4 A3.4 3.4 0 0 1 118 15.2" opacity="0.6"/><path d="M118 6.2 A5.6 5.6 0 0 1 118 17.4" opacity="0.6"/><path d="M118 4.1 A7.7 7.7 0 0 1 118 19.5" opacity="0.8"/></g>
<circle cx="118" cy="11.7" r="1.6" fill="#2a5ad0"/>
<path d="M118.4 12.4 V19.4 H120.6" fill="none" stroke="#20a020" stroke-width="1.3"/>
<path d="M138 12 L152.6 12 L146.6 19.4 Q145 20.4 143.4 19.2Z" fill="#f4d84a" stroke="#c89a10" stroke-width="0.7"/>
<ellipse cx="145.2" cy="8.6" rx="7.6" ry="2.9" fill="#4aa0dc" stroke="#2a78b8" stroke-width="0.7"/>
<ellipse cx="145.2" cy="6.6" rx="3.8" ry="2.4" fill="#6ab8ec"/>
<circle cx="149.4" cy="15.8" r="4" fill="#e01808"/>
<rect x="147.9" y="14.3" width="3" height="3" fill="#fff"/>
<g stroke="#505050" stroke-width="1.2" fill="#505050"><line x1="231.5" y1="7" x2="231.5" y2="19.6"/><line x1="229.0" y1="17.6" x2="241.6" y2="17.6"/><polygon points="231.5,5.8 229.9,8.4 233.1,8.4" stroke="none"/><polygon points="243.0,17.6 240.4,16 240.4,19.2" stroke="none"/></g>
<path d="M237.4 7.3 V15.7 M237.4 8.4 H240 M235.2 14.5 H237.4" stroke="#0a8a0a" stroke-width="1.3" fill="none"/>
<g stroke="#505050" stroke-width="1.2" fill="#505050"><line x1="259.5" y1="7" x2="259.5" y2="19.6"/><line x1="257.0" y1="17.6" x2="269.6" y2="17.6"/><polygon points="259.5,5.8 257.9,8.4 261.1,8.4" stroke="none"/><polygon points="271.0,17.6 268.4,16 268.4,19.2" stroke="none"/></g>
<line x1="265.5" y1="4" x2="265.5" y2="15.7" stroke="#0a8a0a" stroke-width="1.2"/>
<rect x="263.2" y="6.3" width="4.6" height="7.2" fill="url(#grn)" stroke="#0a8a0a" stroke-width="0.9"/>
<g stroke="#505050" stroke-width="1.2" fill="#505050"><line x1="287.5" y1="7" x2="287.5" y2="19.6"/><line x1="285.0" y1="17.6" x2="297.6" y2="17.6"/><polygon points="287.5,5.8 285.9,8.4 289.1,8.4" stroke="none"/><polygon points="299.0,17.6 296.4,16 296.4,19.2" stroke="none"/></g>
<path d="M286.2 14.6 Q289.5 10.5 291.4 9.6 Q293 9 294.6 10.6 Q296.4 12.4 297.9 12.9" stroke="#1a8a1a" stroke-width="1.1" fill="none"/>
<line x1="326.7" y1="14.2" x2="331.7" y2="18.7" stroke="#a87c08" stroke-width="3.4" stroke-linecap="round"/><line x1="326.9" y1="14.4" x2="331.5" y2="18.5" stroke="#ecd23c" stroke-width="2" stroke-linecap="round"/><circle cx="323.0" cy="10" r="5.6" fill="url(#lens)" stroke="#2a7ac8" stroke-width="1.3"/><line x1="319.6" y1="10" x2="326.4" y2="10" stroke="#3a8ab8" stroke-width="1.7"/><line x1="323.0" y1="6.6" x2="323.0" y2="13.4" stroke="#3a8ab8" stroke-width="1.7"/>
<line x1="354.7" y1="14.2" x2="359.7" y2="18.7" stroke="#a87c08" stroke-width="3.4" stroke-linecap="round"/><line x1="354.9" y1="14.4" x2="359.5" y2="18.5" stroke="#ecd23c" stroke-width="2" stroke-linecap="round"/><circle cx="351.0" cy="10" r="5.6" fill="url(#lens)" stroke="#2a7ac8" stroke-width="1.3"/><line x1="347.6" y1="10" x2="354.4" y2="10" stroke="#3a8ab8" stroke-width="1.7"/>
<rect x="373.0" y="4.2" width="7.7" height="7.7" fill="url(#grt)"/><path d="M374.2 7.2 h5.3 v3.4 h-1.2 v-1 h-2.9 v1 h-1.2z" fill="#fff"/><rect x="374.1" y="5.2" width="1" height="0.9" fill="#dff"/><rect x="375.2" y="8.2" width="3.3" height="0.9" fill="#3a9a10" opacity="0.45"/>
<rect x="381.0" y="4.2" width="7.7" height="7.7" fill="url(#blu)"/><path d="M382.2 7.2 h5.3 v3.4 h-1.2 v-1 h-2.9 v1 h-1.2z" fill="#fff"/><rect x="382.1" y="5.2" width="1" height="0.9" fill="#dff"/><rect x="383.2" y="8.2" width="3.3" height="0.9" fill="#1848c8" opacity="0.45"/>
<rect x="373.0" y="12.2" width="7.7" height="7.7" fill="url(#blu)"/><path d="M374.2 15.2 h5.3 v3.4 h-1.2 v-1 h-2.9 v1 h-1.2z" fill="#fff"/><rect x="374.1" y="13.2" width="1" height="0.9" fill="#dff"/><rect x="375.2" y="16.2" width="3.3" height="0.9" fill="#1848c8" opacity="0.45"/>
<rect x="381.0" y="12.2" width="7.7" height="7.7" fill="url(#grt)"/><path d="M382.2 15.2 h5.3 v3.4 h-1.2 v-1 h-2.9 v1 h-1.2z" fill="#fff"/><rect x="382.1" y="13.2" width="1" height="0.9" fill="#dff"/><rect x="383.2" y="16.2" width="3.3" height="0.9" fill="#3a9a10" opacity="0.45"/>
<g stroke="#505050" stroke-width="1.2" fill="#505050"><line x1="411.5" y1="7" x2="411.5" y2="19.6"/><line x1="409.0" y1="17.6" x2="421.6" y2="17.6"/><polygon points="411.5,5.8 409.9,8.4 413.1,8.4" stroke="none"/><polygon points="423.0,17.6 420.4,16 420.4,19.2" stroke="none"/></g>
<polygon points="416,8.2 420,11.4 416,14.6" fill="#9af09a" stroke="#10a010" stroke-width="1"/>
<g stroke="#505050" stroke-width="1.2" fill="#505050"><line x1="439.5" y1="7" x2="439.5" y2="19.6"/><line x1="437.0" y1="17.6" x2="449.6" y2="17.6"/><polygon points="439.5,5.8 437.9,8.4 441.1,8.4" stroke="none"/><polygon points="451.0,17.6 448.4,16 448.4,19.2" stroke="none"/></g>
<line x1="445.5" y1="6.2" x2="445.5" y2="15.7" stroke="#1070b0" stroke-width="1.3"/>
<path d="M451 11.4 H447 M449.4 9.4 L446.6 11.4 L449.4 13.4Z" stroke="#e05000" stroke-width="1" fill="#e05000"/>
<path d="M471 4.6 H478.4 L481.6 7.6 V17.2 H471Z" fill="#fdfdfd" stroke="#9a9a9a" stroke-width="0.9"/>
<path d="M478.4 4.6 V7.6 H481.6" fill="#e6e6e6" stroke="#9a9a9a" stroke-width="0.7"/>
<path d="M474 8 Q472.8 8 472.9 9.4 V13 Q472.9 14.4 474 14.4" fill="none" stroke="#6a5a3a" stroke-width="0.9"/>
<path d="M478.2 10.6 h3.8 v3.7 h3.8 v3.8 h-3.8 v3.7 h-3.8 v-3.7 h-3.8 v-3.8 h3.8z" fill="#2ee02e" stroke="#0a8a0a" stroke-width="0.8"/>
<polygon points="491.6,11.2 497.2,11.2 494.4,14" fill="#000"/>
<polygon points="530.7,11.2 536.3,11.2 533.5,14" fill="#000"/>
<polygon points="569.6,11.2 575.2,11.2 572.4,14" fill="#000"/>
<polygon points="875.8,11.2 881.4,11.2 878.6,14" fill="#000"/>
<circle cx="515.9" cy="12" r="7.2" fill="#fff" stroke="#1464c4" stroke-width="2.1"/>
<circle cx="515.9" cy="12" r="8.2" fill="none" stroke="#0a4aa0" stroke-width="0.5"/>
<path d="M515.6 8 V12.2 H518.4" fill="none" stroke="#222" stroke-width="1.1"/>
<g fill="#7a9ac8"><rect x="515.5" y="6.4" width="0.9" height="0.9"/><rect x="515.5" y="16.6" width="0.9" height="0.9"/><rect x="510.4" y="11.6" width="0.9" height="0.9"/><rect x="520.6" y="11.6" width="0.9" height="0.9"/></g>
<rect x="547.6" y="5.4" width="15" height="13.2" fill="#fff" stroke="#2f6fc4" stroke-width="1"/>
<rect x="548" y="5.6" width="14.2" height="2.2" fill="#5a9ae8"/>
<line x1="548" y1="13.5" x2="562.2" y2="13.5" stroke="#2f6fc4" stroke-width="0.9"/>
<polyline points="549.6,11.6 552,10.4 554,10.8 556,9.6 558.4,10.2 560.6,9.2" fill="none" stroke="#a81a0a" stroke-width="1.1"/>
<polyline points="550.4,16.6 552.6,15.6 554.6,16.6 557,14.6 558.6,15 560.8,16.8" fill="none" stroke="#1a9a1a" stroke-width="1.1"/>
<path d="M599.2 5.2 L599.2 15.8 L601.8 13.4 L604 18.8 L606 18 L603.8 12.8 L607.4 12.6Z" fill="#505050"/>
<path d="M631.5 4.8 V11 M631.5 13.6 V19.8 M624.2 12.3 H630.2 M632.8 12.3 H639.2" stroke="#505050" stroke-width="1" fill="none" shape-rendering="crispEdges"/>
<line x1="665.5" y1="6" x2="665.5" y2="19" stroke="#505050" stroke-width="1.1"/>
<line x1="687.7" y1="12.4" x2="700.2" y2="12.4" stroke="#505050" stroke-width="1.1"/>
<line x1="715.8" y1="18.8" x2="728" y2="7" stroke="#505050" stroke-width="1.1"/>
<g stroke="#505050" stroke-width="0.9" fill="none">
<path d="M741.6 14.4 L753.4 4.6 M742.6 17.6 L755.2 6.8 M744.2 18.6 L755.8 10.4"/>
<path d="M746 10 V17.4 M749.2 7.4 V15.4 M752.4 5 V13"/>
</g>
<text x="752.6" y="20.8" font-family='"Liberation Sans", sans-serif' font-size="6.6" font-weight="bold" fill="#303030">E</text>
<g stroke="#505050" stroke-width="1" stroke-dasharray="1,1.2" fill="none">
<line x1="771" y1="5.3" x2="784" y2="5.3"/>
<line x1="771" y1="8.7" x2="784" y2="8.7"/>
<line x1="771" y1="12.3" x2="784" y2="12.3"/>
<line x1="771" y1="16.6" x2="780" y2="16.6"/>
</g>
<text x="781" y="20.8" font-family='"Liberation Sans", sans-serif' font-size="6.6" font-weight="bold" fill="#303030">F</text>
<text x="801.6" y="16.8" font-family='"Liberation Sans", sans-serif' font-size="12" fill="#505050" stroke="#505050" stroke-width="0.4">A</text>
<rect x="828.4" y="6.2" width="11.2" height="12.4" fill="none" stroke="#505050" stroke-width="1" stroke-dasharray="1,1.2"/>
<path d="M830.3 9.2 H837.6 V10.8 H834.8 V16.8 H833.1 V10.8 H830.3Z" fill="#505050"/>
<polygon points="858.7,5.8 861.4,8.4 858.7,10.4 856,8.4" fill="#505050"/>
<polygon points="865.4,18.4 868.2,15.6 865.4,13.8 862.6,15.6" fill="#505050"/>
<path d="M857.4 12.8 L859.8 15 L864.6 9.6" stroke="#505050" stroke-width="1.2" fill="none"/>
<line x1="1616" y1="12" x2="1611.2" y2="16.8" stroke="#1c54c8" stroke-width="2.2" stroke-linecap="round"/>
<circle cx="1618.6" cy="9.4" r="4" fill="#fafcff" stroke="#2a64d8" stroke-width="1.3"/>
<path d="M1645 8.8 A6.4 4.5 0 1 1 1653.6 13 L1655 15.6 L1651.4 13.4 A6.4 4.5 0 0 1 1645 8.8Z" fill="#f8f8fa" stroke="#9a9a9a" stroke-width="0.9"/>
<path d="M1637.4 13 A4.9 3.6 0 1 1 1642.6 16.6 L1639.4 18.6 L1640.4 16.2 A4.9 3.6 0 0 1 1637.4 13Z" fill="#f4f4f8" stroke="#8a8a8a" stroke-width="0.9"/>
</svg>
</body></html>
